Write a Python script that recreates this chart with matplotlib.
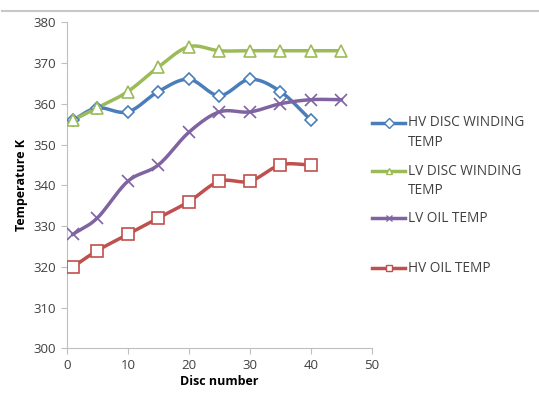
import numpy as np
import matplotlib.pyplot as plt
from matplotlib.lines import Line2D

# dados
disco = [1, 5, 10, 15, 20, 25, 30, 35, 40, 45]
hv_disc = [356, 359, 358, 363, 366, 362, 366, 363, 356]
lv_disc = [356, 359, 363, 369, 374, 373, 373, 373, 373, 373]
lv_oil = [328, 332, 341, 345, 353, 358, 358, 360, 361, 361]
hv_oil = [320, 324, 328, 332, 336, 341, 341, 345, 345]

nomes = [['HV DISC WINDING', 'TEMP'], ['LV DISC WINDING', 'TEMP'], ['LV OIL TEMP'], ['HV OIL TEMP']]
cores = ['#4A7EBB', '#9BBB59', '#8064A2', '#C0504D']
marcadores = ['D', '^', 'x', 's']
tamanhos = [6.5, 8.5, 9, 9]


def suaviza(x, y, n=20):
    # curva tipo Catmull-Rom, parecida com a linha suavizada do Excel
    x = np.asarray(x, float)
    y = np.asarray(y, float)
    px = np.concatenate([[2 * x[0] - x[1]], x, [2 * x[-1] - x[-2]]])
    py = np.concatenate([[2 * y[0] - y[1]], y, [2 * y[-1] - y[-2]]])
    xs, ys = [], []
    t = np.linspace(0, 1, n)
    for i in range(1, len(px) - 2):
        for p, out in ((px, xs), (py, ys)):
            p0, p1, p2, p3 = p[i - 1], p[i], p[i + 1], p[i + 2]
            out.extend(0.5 * (2 * p1 + (-p0 + p2) * t
                              + (2 * p0 - 5 * p1 + 4 * p2 - p3) * t ** 2
                              + (-p0 + 3 * p1 - 3 * p2 + p3) * t ** 3))
    return np.array(xs), np.array(ys)


plt.rcParams['font.family'] = ['Open Sans', 'DejaVu Sans']
fig = plt.figure(figsize=(5.39, 3.96), dpi=100)
ax = fig.add_axes([0.124, 0.12, 0.566, 0.824])

series = [hv_disc, lv_disc, lv_oil, hv_oil]
for ys, c, m, ms in zip(series, cores, marcadores, tamanhos):
    xs = disco[:len(ys)]
    sx, sy = suaviza(xs, ys)
    ax.plot(sx, sy, color=c, lw=2.5, zorder=2)
    ax.plot(xs, ys, ls='none', marker=m, ms=ms, mfc='white' if m != 'x' else c,
            mec=c, mew=1.2, zorder=3)

ax.set_xlim(0, 50)
ax.set_ylim(300, 380)
ax.set_xticks(range(0, 51, 10))
ax.set_yticks(range(300, 381, 10))
for lado in ['top', 'right']:
    ax.spines[lado].set_visible(False)
for lado in ['left', 'bottom']:
    ax.spines[lado].set_color('#BFBFBF')
ax.tick_params(colors='#BFBFBF', labelcolor='#404040', labelsize=9.5, length=4)
ax.set_xlabel('Disc number', fontsize=9, fontweight='bold', labelpad=2)
ax.set_ylabel('Temperature K', fontsize=9, fontweight='bold', labelpad=4)

# legenda feita a mao, com o espacamento do Excel
W, H = 539, 396
ylin = [123, 171, 218, 268]
for linhas, c, m, y in zip(nomes, cores, marcadores, ylin):
    yf = 1 - y / H
    fig.add_artist(Line2D([372 / W, 405 / W], [yf, yf], color=c, lw=2.5))
    fig.add_artist(Line2D([388.5 / W], [yf], ls='none', marker=m, ms=5,
                          mfc='white' if m != 'x' else c, mec=c, mew=1.0))
    for k, txt in enumerate(linhas):
        fig.text(408 / W, 1 - (y + 19 * k) / H, txt, fontsize=9.8, color='#404040',
                 va='center', ha='left')

# linha cinza do topo do quadro
fig.add_artist(Line2D([0.004, 1], [0.972, 0.972], color='#C8C8C8', lw=1.5))

fig.savefig('out.png', dpi=100)
